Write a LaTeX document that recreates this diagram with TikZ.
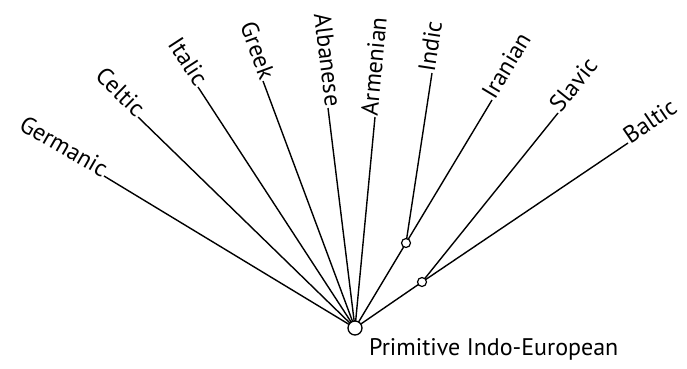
\documentclass[tikz,border=0pt]{standalone}
\usepackage{fontspec}
\setmainfont{PT Sans}
\begin{document}
\begin{tikzpicture}[x=1pt,y=-1pt,
  lab/.style={font=\fontsize{24}{28}\selectfont, inner sep=1pt},
  br/.style={line width=1.4pt},
  bigdot/.style={circle, draw, line width=1.3pt, fill=white, minimum size=14pt, inner sep=0pt},
  smalldot/.style={circle, draw, line width=1.2pt, fill=white, minimum size=9pt, inner sep=0pt}]
\useasboundingbox (0,0) rectangle (687,368);
% labels
\node[lab, anchor=mid east, rotate=-30] (ger) at (104,176) {Germanic};
\node[lab, anchor=mid east, rotate=-44.2] (cel) at (138,117) {Celtic};
\node[lab, anchor=mid east, rotate=-56.9] (ita) at (198,87) {Italic};
\node[lab, anchor=mid east, rotate=-69.6] (gre) at (263,81) {Greek};
\node[lab, anchor=mid east, rotate=-83] (alb) at (328,108) {Albanese};
\node[lab, anchor=mid west, rotate=84.6] (arm) at (375,117) {Armenian};
\node[lab, anchor=mid west, rotate=81.3] (ind) at (432,73) {Indic};
\node[lab, anchor=mid west, rotate=59.0] (ira) at (492,100) {Iranian};
\node[lab, anchor=mid west, rotate=51.2] (sla) at (558,113) {Slavic};
\node[lab, anchor=mid west, rotate=34.1] (bal) at (628,143) {Baltic};
\node[lab, anchor=base west] (pie) at (368,355) {Primitive Indo-European};
% junction points
\coordinate (rc) at (355,328);
\coordinate (j1c) at (406,243);
\coordinate (j2c) at (422,282);
% branches
\foreach \t in {ger,cel,ita,gre,alb} {\draw[br] (rc) -- (\t.mid east);}
\draw[br] (rc) -- (arm.mid west);
\draw[br] (rc) -- (j1c) -- (ira.mid west);
\draw[br] (j1c) -- (ind.mid west);
\draw[br] (rc) -- (j2c) -- (bal.mid west);
\draw[br] (j2c) -- (sla.mid west);
% nodes
\node[bigdot] (root) at (rc) {};
\node[smalldot] (j1) at (j1c) {};
\node[smalldot] (j2) at (j2c) {};
\end{tikzpicture}
\end{document}
